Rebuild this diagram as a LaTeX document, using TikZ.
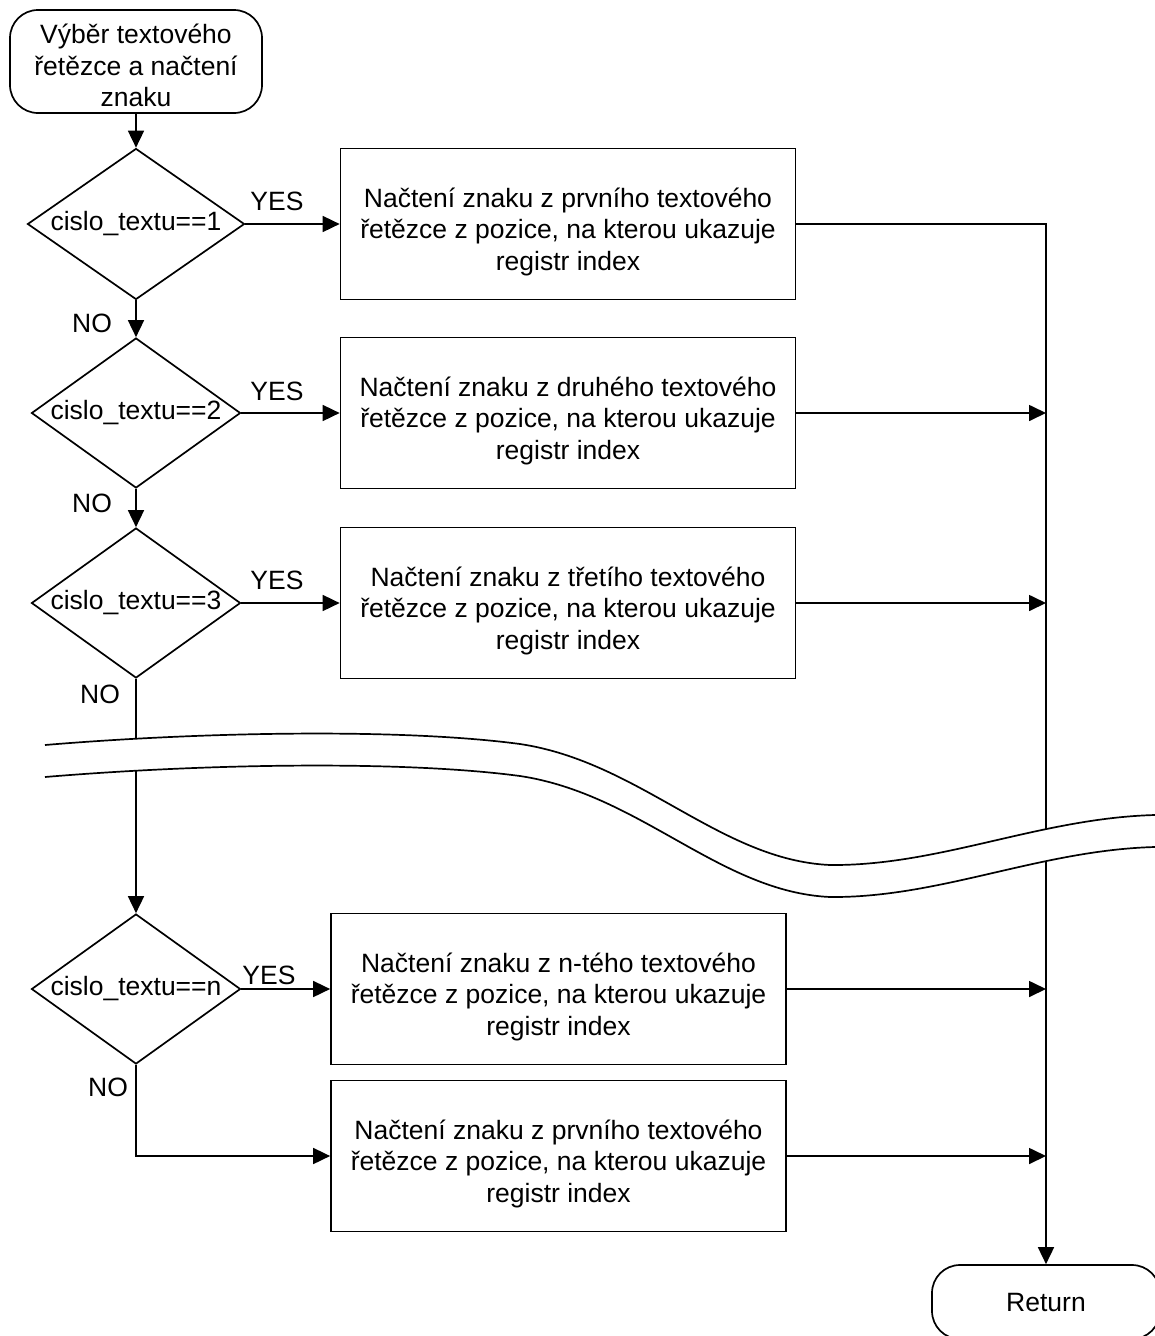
\documentclass[tikz,border=0pt]{standalone}
\usepackage{fontspec}
\setmainfont{Liberation Sans}
\usetikzlibrary{shapes.geometric,arrows.meta}
\newcommand{\toppad}{\rule{0pt}{35pt}}
\begin{document}
\begin{tikzpicture}[x=1pt,y=-1pt,
  every node/.style={font=\fontsize{26.5}{31.5}\selectfont},
  flow/.style={line width=1.7pt},
  arr/.style={flow,-{Triangle[length=17pt,width=16pt]}},
  proc/.style={draw,line width=1.7pt,rectangle,minimum width=455pt,minimum height=151pt,align=center,inner sep=0pt},
  decision/.style={draw,line width=1.7pt,diamond,aspect=1.4,minimum width=209pt,minimum height=150pt,inner sep=0pt},
  term/.style={draw,line width=1.7pt,rectangle,rounded corners=28pt,align=center,inner sep=0pt},
  lbl/.style={inner sep=0pt}
]
\useasboundingbox (0,0) rectangle (1155,1336);

% start and end
\node[term,minimum width=252pt,minimum height=103pt] (start) at (136,61.5)
  {\rule{0pt}{28pt}Výběr textového\\řetězce a načtení\\znaku};
\node[term,minimum width=228pt,minimum height=74pt] (ret) at (1046,1302) {Return};

% decisions
\node[decision,minimum width=217pt,minimum height=151pt] (d1) at (136,224) {cislo\_textu==1};
\node[decision] (d2) at (136,413) {cislo\_textu==2};
\node[decision] (d3) at (136,603) {cislo\_textu==3};
\node[decision] (dn) at (136,989) {cislo\_textu==n};

% processing boxes
\node[proc] (b1) at (568,224) {\toppad Načtení znaku z prvního textového\\řetězce z pozice, na kterou ukazuje\\registr index};
\node[proc] (b2) at (568,413) {\toppad Načtení znaku z druhého textového\\řetězce z pozice, na kterou ukazuje\\registr index};
\node[proc] (b3) at (568,603) {\toppad Načtení znaku z třetího textového\\řetězce z pozice, na kterou ukazuje\\registr index};
\node[proc] (bn) at (558.5,989) {\toppad Načtení znaku z n-tého textového\\řetězce z pozice, na kterou ukazuje\\registr index};
\node[proc] (bl) at (558.5,1156) {\toppad Načtení znaku z prvního textového\\řetězce z pozice, na kterou ukazuje\\registr index};

% branch labels
\node[lbl] (yes1) at (277,201) {YES};
\node[lbl] (yes2) at (277,391) {YES};
\node[lbl] (yes3) at (277,580) {YES};
\node[lbl] (yesn) at (269,975) {YES};
\node[lbl] (no1) at (92,323) {NO};
\node[lbl] (no2) at (92,503) {NO};
\node[lbl] (no3) at (100,694) {NO};
\node[lbl] (non) at (108,1087) {NO};

% collecting line on the right
\coordinate (rtop) at (1046,224);

% connectors
\draw[arr] (start.south) -- (d1.north);
\draw[arr] (d1.south) -- (d2.north);
\draw[arr] (d2.south) -- (d3.north);
\draw[arr] (d3.south) -- (dn.north);
\draw[arr] (d1.east) -- (d1.east -| b1.west);
\draw[arr] (d2.east) -- (d2.east -| b2.west);
\draw[arr] (d3.east) -- (d3.east -| b3.west);
\draw[arr] (dn.east) -- (dn.east -| bn.west);
\draw[arr] (dn.south) |- (bl.west);
\draw[arr] (b1.east) -- (rtop) -- (ret.north);
\draw[arr] (b2.east) -- (b2.east -| rtop);
\draw[arr] (b3.east) -- (b3.east -| rtop);
\draw[arr] (bn.east) -- (bn.east -| rtop);
\draw[arr] (bl.east) -- (bl.east -| rtop);

% break band across the chart
\fill[white] (45,745) .. controls (200,732) and (400,728) .. (520,744)
  .. controls (640,762) and (720,860) .. (830,865)
  .. controls (940,866) and (1040,818) .. (1155,815)
  -- (1155,847) .. controls (1040,850) and (940,898) .. (830,897)
  .. controls (720,892) and (640,794) .. (520,776)
  .. controls (400,760) and (200,764) .. (45,777) -- cycle;
\draw[flow] (45,745) .. controls (200,732) and (400,728) .. (520,744)
  .. controls (640,762) and (720,860) .. (830,865)
  .. controls (940,866) and (1040,818) .. (1155,815);
\draw[flow] (45,777) .. controls (200,764) and (400,760) .. (520,776)
  .. controls (640,794) and (720,892) .. (830,897)
  .. controls (940,898) and (1040,850) .. (1155,847);
\end{tikzpicture}
\end{document}
